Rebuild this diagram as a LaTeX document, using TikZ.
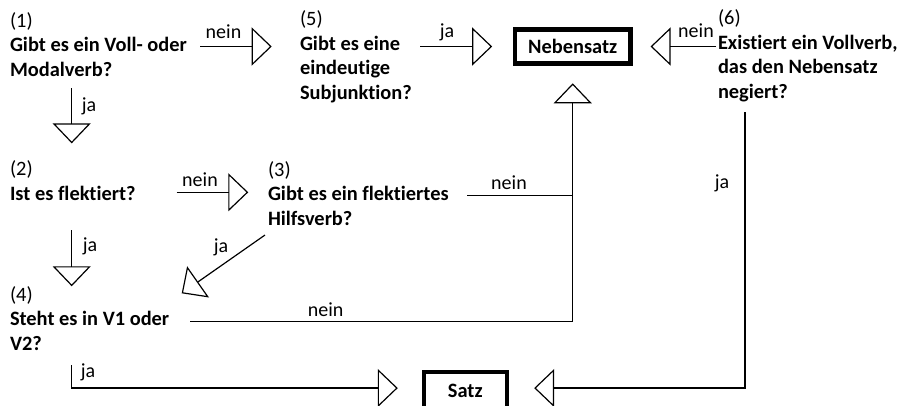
\documentclass[tikz,border=0pt]{standalone}
\usepackage{fontspec}
\setmainfont{Carlito}[Ligatures=NoCommon]
\usepackage{tikz}
\usetikzlibrary{arrows.meta, positioning}
\tikzset{
	questionnode/.style={
			anchor=base west,
			inner sep=0pt,
			outer sep=0pt,
			align=left,
			font=\fontsize{15.3}{18.3}\selectfont
		},
	resultnode/.style={
			draw=black,
			line width=3.2pt,
			inner sep=0pt,
			font=\fontsize{15.3}{18.3}\selectfont\bfseries
		},
	labelnode/.style={
			anchor=base,
			inner sep=0pt,
			font=\fontsize{15}{18}\selectfont
		},
	plainline/.style={
			line width=0.9pt
		},
	flowline/.style={
			plainline,
			-{Triangle[open, length=15pt, width=28.5pt]}
		}
}

\begin{document}
\begin{tikzpicture}[x=0.75pt, y=-0.75pt]

\useasboundingbox (0,0) rectangle (906,405);

% base west sits on the last line of each question
\node[questionnode] (q1) at (10,76) {(1)\\\textbf{Gibt es ein Voll- oder}\\\textbf{Modalverb?}};
\node[questionnode] (q5) at (300,99) {(5)\\\textbf{Gibt es eine}\\\textbf{eindeutige}\\\textbf{Subjunktion?}};
\node[questionnode] (q6) at (718,98) {(6)\\\textbf{Existiert ein Vollverb,}\\\textbf{das den Nebensatz}\\\textbf{negiert?}};
\node[questionnode] (q2) at (10,200) {(2)\\\textbf{Ist es flektiert?}};
\node[questionnode] (q3) at (268,225) {(3)\\\textbf{Gibt es ein flektiertes}\\\textbf{Hilfsverb?}};
\node[questionnode] (q4) at (10,350) {(4)\\\textbf{Steht es in V1 oder}\\\textbf{V2?}};

\node[resultnode, minimum width=86.6pt, minimum height=25.4pt] (neben) at (572.7,46.5) {Nebensatz};
\node[resultnode, minimum width=62.5pt, minimum height=28pt] (satz) at (465.3,391) {Satz};

\coordinate (q1nein) at (200,46.5);
\coordinate (q1ja) at (71.7,88.3);
\coordinate (q5ja) at (420,46.5);
\coordinate (q6nein) at (716,46.5);
\coordinate (q6ja) at (745,112);
\coordinate (q2nein) at (176.7,192.3);
\coordinate (q2ja) at (71.7,230);
\coordinate (q3nein) at (467,195.7);
\coordinate (q3ja) at (265,235);
\coordinate (q4in) at (181.7,293.3);
\coordinate (q4nein) at (190,321.7);
\coordinate (q4ja) at (71.7,365);
\coordinate (knot) at (q3nein -| neben.south);

\draw[flowline, shorten >=21.2pt] (q1nein) -- (q1nein -| q5.west);
\draw[flowline, shorten >=15.5pt] (q5ja) -- (neben.west);
\draw[flowline, shorten >=13.5pt] (q6nein) -- (neben.east);
\draw[flowline, shorten >=13pt] (q1ja) -- (q1ja |- q2.north);
\draw[flowline, shorten >=14.8pt] (q2nein) -- (q2nein -| q3.west);
\draw[flowline] (q2ja) -- (q2ja |- q4.north);
\draw[flowline] (q3ja) -- (q4in);
\draw[flowline, shorten >=13.3pt] (q3nein) -- (knot) -- (neben.south);
\draw[plainline] (q4nein) -| (knot);
\draw[flowline, shorten >=17.8pt] (q4ja) |- ([yshift=2.2pt]satz.west);
\draw[flowline, shorten >=18.8pt] (q6ja) |- ([yshift=2.2pt]satz.east);

\node[labelnode] (l1nein) at (223.5,38.3) {nein};
\node[labelnode] (l5ja) at (447,37.7) {ja};
\node[labelnode] (l6nein) at (696,37.3) {nein};
\node[labelnode] (l1ja) at (89,111.7) {ja};
\node[labelnode] (l2nein) at (200,186.7) {nein};
\node[labelnode] (l2ja) at (90,251) {ja};
\node[labelnode] (l3ja) at (221,252) {ja};
\node[labelnode] (l3nein) at (509,189) {nein};
\node[labelnode] (l4nein) at (325.7,316) {nein};
\node[labelnode] (l4ja) at (88,377) {ja};
\node[labelnode] (l6ja) at (722,188) {ja};

\end{tikzpicture}
\end{document}
